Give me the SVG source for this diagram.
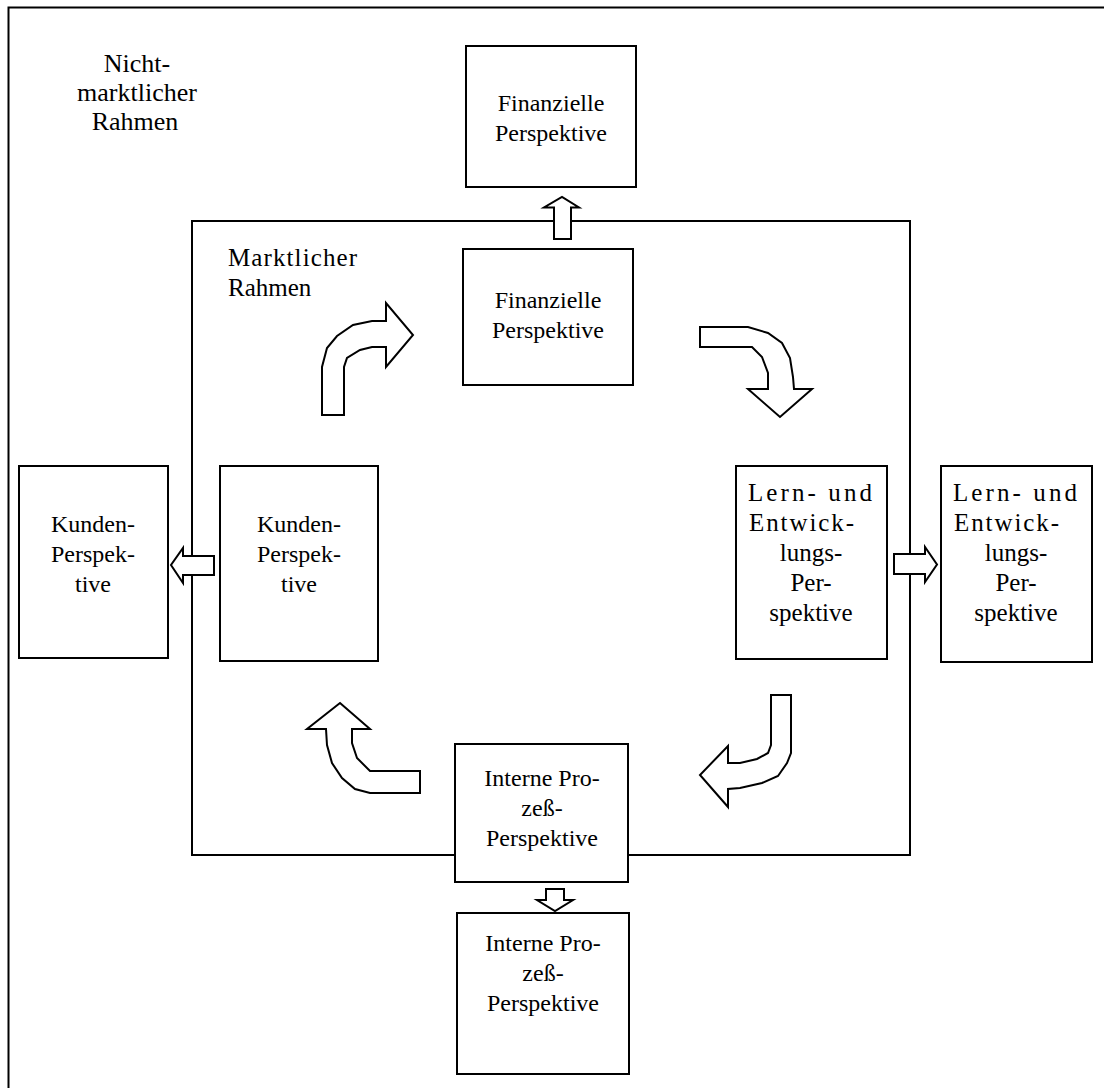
<svg xmlns="http://www.w3.org/2000/svg" width="1104" height="1088" viewBox="0 0 1104 1088">
<style>
.bx{fill:#fff;stroke:#000;stroke-width:2}
.fr{fill:none;stroke:#000;stroke-width:2}
.ar{fill:#fff;stroke:#000;stroke-width:2;stroke-linejoin:miter}
text{font-family:"Liberation Serif","Times New Roman",serif;font-size:24px;fill:#000}
.c{text-anchor:middle}
.lg{font-size:26px}
.md{font-size:25px}
</style>
<rect width="1104" height="1088" fill="#fff"/>
<g id="frame-outer"><path class="fr" d="M8.5,1088 V7.5 H1104"/>
<text class="c lg" x="137" y="72">Nicht-</text><text class="c lg" x="137" y="101">marktlicher</text><text class="c lg" x="135" y="130">Rahmen</text></g>
<g id="frame-inner"><rect class="fr" x="192" y="221" width="718" height="634"/>
<text class="md" x="228" y="266" textLength="129" lengthAdjust="spacing">Marktlicher</text><text class="md" x="228" y="296">Rahmen</text></g>
<g id="connectors">
<path class="ar" d="M554,239 V207.5 H544 L562,197 L579,207.5 H571 V239 Z"/>
<path class="ar" d="M546,889 V900 H537 L555,911 L573,900 H564 V889 Z"/>
<path class="ar" d="M894,554 H925 V547 L937,564.5 L925,582 V574 H894 Z"/>
<path class="ar" d="M214,556 H183 V548 L171,565 L183,583 V575 H214 Z"/>
<path class="ar" d="M322,415 V367 L327,348 L337,336 L353,325 L372,321 H386 V303 L413,335 L386,367 V347 H372 L360,350 L347,358 L344,367 V415 Z"/>
<path class="ar" d="M700,327 H748 L768,333 L782,343 L790,358 L793,377 L794,389 H812 L780,417 L748,389 H768 L768,373 L762,357 L752,347 L700,347 Z"/>
<path class="ar" d="M771,695 H791 V753 L787,763 L778,776 L762,783 L740,788 L728,789 V807 L700,775 L728,746 V763 L740,763 L757,759 L768,753 L771,745 Z"/>
<path class="ar" d="M340,703 L370,729 H352 V743 L357,758 L370,771 H420 V793 H370 L355,789 L342,778 L332,763 L327,745 L326,729 H307 Z"/>
</g>
<g id="fin-outer"><rect class="bx" x="466" y="46" width="170" height="141"/>
<text class="c" x="551" y="111">Finanzielle</text><text class="c" x="551" y="141">Perspektive</text></g>
<g id="fin-inner"><rect class="bx" x="463" y="249" width="170" height="136"/>
<text class="c" x="548" y="308">Finanzielle</text><text class="c" x="548" y="338">Perspektive</text></g>
<g id="kunden-outer"><rect class="bx" x="19" y="466" width="149" height="192"/>
<text class="c" x="93" y="532">Kunden-</text><text class="c" x="93" y="562">Perspek-</text><text class="c" x="93" y="592">tive</text></g>
<g id="kunden-inner"><rect class="bx" x="220" y="466" width="158" height="195"/>
<text class="c" x="299" y="532">Kunden-</text><text class="c" x="299" y="562">Perspek-</text><text class="c" x="299" y="592">tive</text></g>
<g id="lern-inner"><rect class="bx" x="736" y="466" width="151" height="193"/>
<text class="md" x="748" y="501" textLength="124" lengthAdjust="spacing">Lern- und</text><text class="md" x="749" y="531" textLength="105" lengthAdjust="spacing">Entwick-</text><text class="c md" x="811" y="561">lungs-</text><text class="c md" x="811" y="591">Per-</text><text class="c md" x="811" y="621">spektive</text></g>
<g id="lern-outer"><rect class="bx" x="941" y="466" width="151" height="196"/>
<text class="md" x="953" y="501" textLength="124" lengthAdjust="spacing">Lern- und</text><text class="md" x="954" y="531" textLength="105" lengthAdjust="spacing">Entwick-</text><text class="c md" x="1016" y="561">lungs-</text><text class="c md" x="1016" y="591">Per-</text><text class="c md" x="1016" y="621">spektive</text></g>
<g id="interne-inner"><rect class="bx" x="455" y="744" width="173" height="138"/>
<text class="c" x="542" y="786">Interne Pro-</text><text class="c" x="542" y="816">zeß-</text><text class="c" x="542" y="846">Perspektive</text></g>
<g id="interne-outer"><rect class="bx" x="457" y="913" width="172" height="161"/>
<text class="c" x="543" y="951">Interne Pro-</text><text class="c" x="543" y="981">zeß-</text><text class="c" x="543" y="1011">Perspektive</text></g>
</svg>
